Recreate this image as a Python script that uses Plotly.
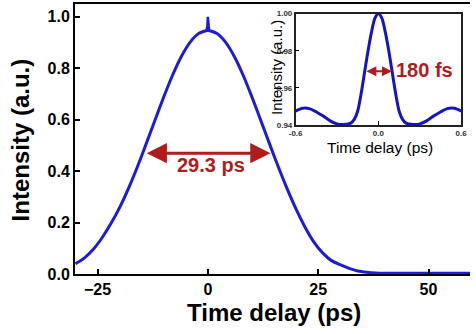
import plotly.graph_objects as go

# ---- main trace: intensity vs time delay (ps) ----
main_t = [-30, -28, -26, -24, -22, -20, -18, -16, -14, -12, -10, -8, -6, -4, -2, 0,
          2, 4, 6, 8, 10, 12, 14, 16, 18, 20, 22, 24, 26, 28, 30, 32, 34, 36, 38,
          40, 42, 44, 46, 48, 50, 52, 54, 56, 58, 60]
main_i = [0.040, 0.062, 0.095, 0.140, 0.195, 0.258, 0.332, 0.415, 0.505, 0.597, 0.688,
          0.773, 0.846, 0.902, 0.936, 0.947,
          0.936, 0.902, 0.846, 0.773, 0.688, 0.597, 0.505, 0.415, 0.330, 0.252, 0.183,
          0.125, 0.082, 0.052, 0.036, 0.022, 0.012, 0.007, 0.004,
          0.003, 0.003, 0.003, 0.003, 0.003, 0.003, 0.003, 0.003, 0.003, 0.003, 0.003]

# coherence spike at zero delay
spike_t = [-0.3, -0.1, 0.0, 0.1, 0.3]
spike_i = [0.947, 0.965, 1.0, 0.965, 0.947]

# ---- inset: zoom around zero delay ----
inset_t = [-0.60, -0.55, -0.50, -0.45, -0.40, -0.35, -0.30, -0.25, -0.20, -0.175, -0.15,
           -0.125, -0.10, -0.075, -0.05, -0.025, 0.0, 0.025, 0.05, 0.075, 0.10, 0.125,
           0.15, 0.175, 0.20, 0.25, 0.30, 0.35, 0.40, 0.45, 0.50, 0.55, 0.60]
inset_i = [0.9475, 0.9490, 0.9488, 0.9470, 0.9448, 0.9422, 0.9406, 0.9403, 0.9410, 0.9430,
           0.9475, 0.9570, 0.9685, 0.9800, 0.9900, 0.9975, 1.0000, 0.9975, 0.9900, 0.9800,
           0.9685, 0.9570, 0.9475, 0.9430, 0.9410, 0.9403, 0.9406, 0.9422, 0.9448, 0.9470,
           0.9488, 0.9490, 0.9475]

main_xticks = [-25, 0, 25, 50]
main_yticks = [0.0, 0.2, 0.4, 0.6, 0.8, 1.0]
main_ytick_text = ["0.0", "0.2", "0.4", "0.6", "0.8", "1.0"]
inset_xticks = [-0.6, 0.0, 0.6]
inset_xtick_text = ["-0.6", "0.0", "0.6"]
inset_yticks = [0.94, 0.96, 0.98, 1.00]
inset_ytick_text = ["0.94", "0.96", "0.98", "1.00"]

# FWHM markers
main_fwhm_label = "29.3 ps"
main_arrow_t = [-14.2, 14.2]
main_arrow_level = 0.47
inset_fwhm_label = "180 fs"
inset_arrow_t = [-0.098, 0.098]
inset_arrow_level = 0.969

BLUE = "#1c1cd8"
BLUE2 = "#1414c4"
RED = "#b01c1c"
FONT = "Liberation Sans"

fig = go.Figure()
fig.add_trace(go.Scatter(x=main_t, y=main_i, mode="lines",
                         line=dict(color=BLUE, width=3, shape="spline", smoothing=0.6),
                         xaxis="x", yaxis="y", showlegend=False))
fig.add_trace(go.Scatter(x=spike_t, y=spike_i, mode="lines",
                         line=dict(color=BLUE, width=2.5),
                         xaxis="x", yaxis="y", showlegend=False))
fig.add_trace(go.Scatter(x=inset_t, y=inset_i, mode="lines",
                         line=dict(color=BLUE2, width=3, shape="spline", smoothing=0.8),
                         xaxis="x2", yaxis="y2", showlegend=False))

fig.update_layout(
    width=476, height=334,
    margin=dict(l=75, r=0, t=1, b=60),
    paper_bgcolor="white", plot_bgcolor="white",
    font=dict(family=FONT, color="black"),
    xaxis=dict(range=[-30.1, 59.4], tickvals=main_xticks, ticks="inside", ticklen=5,
               tickwidth=1.5, tickcolor="black", showline=True, linewidth=2,
               linecolor="black", mirror=True, showgrid=False, zeroline=False,
               tickfont=dict(size=16, family=FONT, weight="bold"), domain=[0, 1]),
    yaxis=dict(range=[0, 1.05], tickvals=main_yticks, ticktext=main_ytick_text,
               ticks="inside", ticklen=5, tickwidth=1.5, tickcolor="black",
               showline=True, linewidth=2, linecolor="black", mirror=False,
               showgrid=False, zeroline=False,
               tickfont=dict(size=16, family=FONT, weight="bold"), domain=[0, 1]),
    xaxis2=dict(domain=[0.5586, 0.9776], anchor="y2", range=[-0.6, 0.6],
                tickvals=inset_xticks, ticktext=inset_xtick_text, ticks="inside",
                ticklen=4, tickwidth=1.2, tickcolor="black", showline=True,
                linewidth=1.5, linecolor="#222222", mirror=True, showgrid=False,
                zeroline=False, tickfont=dict(size=8, family=FONT, weight="bold",
                                              color="#333333")),
    yaxis2=dict(domain=[0.552, 0.9645], anchor="x2", range=[0.94, 1.0],
                tickvals=inset_yticks, ticktext=inset_ytick_text, ticks="inside",
                ticklen=4, tickwidth=1.2, tickcolor="black", showline=True,
                linewidth=1.5, linecolor="#222222", mirror=True, showgrid=False,
                zeroline=False, tickfont=dict(size=8, family=FONT, weight="bold",
                                              color="#333333")),
)

annotations = [
    # main axis titles
    dict(text="Time delay (ps)", xref="paper", yref="paper", x=0.504, y=-0.143,
         xanchor="center", yanchor="middle", showarrow=False,
         font=dict(size=24, family=FONT, weight="bold", color="black")),
    dict(text="Intensity (a.u.)", xref="paper", yref="paper", x=-0.137, y=0.498,
         xanchor="center", yanchor="middle", showarrow=False, textangle=-90,
         font=dict(size=24, family=FONT, weight="bold", color="black")),
    # inset axis titles
    dict(text="Time delay (ps)", xref="paper", yref="paper", x=0.772, y=0.467,
         xanchor="center", yanchor="middle", showarrow=False,
         font=dict(size=15.5, family=FONT, color="black")),
    dict(text="Intensity (a.u.)", xref="paper", yref="paper", x=0.51, y=0.765,
         xanchor="center", yanchor="middle", showarrow=False, textangle=-90,
         font=dict(size=15, family=FONT, color="black")),
    # main FWHM arrow
    dict(x=main_arrow_t[1], y=main_arrow_level, ax=main_arrow_t[0], ay=main_arrow_level,
         xref="x", yref="y", axref="x", ayref="y", text="", showarrow=True,
         arrowhead=2, arrowside="end+start", arrowsize=1.35, arrowwidth=3,
         arrowcolor=RED),
    dict(text=main_fwhm_label, x=0.7, y=0.425, xref="x", yref="y", showarrow=False,
         xanchor="center", yanchor="middle",
         font=dict(size=20, family=FONT, weight="bold", color=RED)),
    # inset FWHM arrow
    dict(x=inset_arrow_t[1], y=inset_arrow_level, ax=inset_arrow_t[0],
         ay=inset_arrow_level, xref="x2", yref="y2", axref="x2", ayref="y2", text="",
         showarrow=True, arrowhead=2, arrowside="end+start", arrowsize=1,
         arrowwidth=2, arrowcolor=RED),
    dict(text=inset_fwhm_label, x=0.11, y=0.9695, xref="x2", yref="y2", showarrow=False,
         xanchor="left", yanchor="middle",
         font=dict(size=20, family=FONT, weight="bold", color=RED)),
]
fig.update_layout(annotations=annotations)

fig.write_html("out.html", config={"displayModeBar": False},
               post_script="document.body.style.margin='0px';")
